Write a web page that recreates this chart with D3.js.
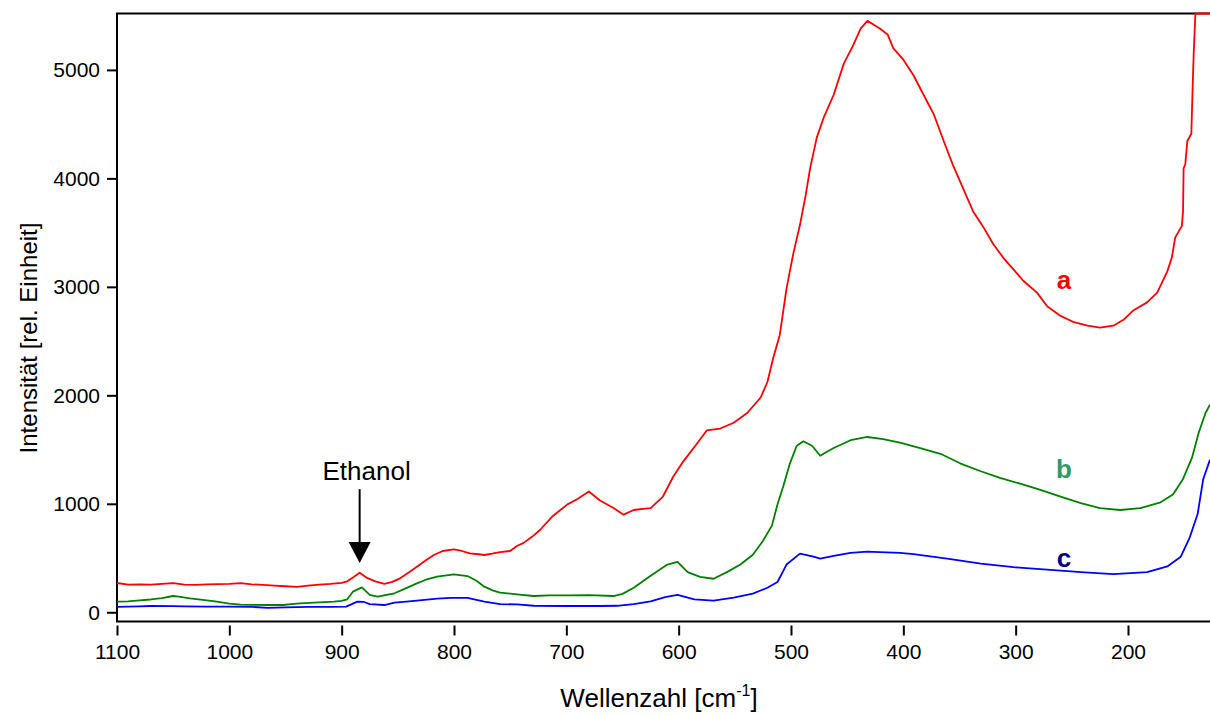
<!DOCTYPE html>
<meta charset="utf-8">
<script src="https://cdnjs.cloudflare.com/ajax/libs/d3/7.8.5/d3.min.js"></script>
<style>
body { margin: 0; background: #fff; }
text { font-family: "Liberation Sans", Arial, sans-serif; }
</style>
<body>
<script>
// Raman spectra a, b, c (wavenumber in cm-1, intensity in rel. units)
var waveA = [1100,1090,1080,1070,1060,1050,1040,1030,1020,1010,1000,990,980,970,960,950,940,930,920,910,900,895,890,884,878,870,862,855,848,840,833,825,818,810,800,793,786,778,773,766,759,750,744,738,730,723,712,705,699,690,680,670,658,649,640,630,625,614,605,596,584,575,563,551,539,527,521,516,510,504,498,492,487,483,477,471,462,453,445,438,432,427,421,414,409,400,391,382,373,364,356,347,338,329,320,311,302,293,281,272,260,249,236,225,213,204,195,183,174,165,161,158,152,151,150.5,149,147.2,143.6,142.7,141.5,140,127];
var intensA = [270,255,258,255,262,268,255,252,258,260,262,268,258,252,245,240,235,245,255,262,272,285,320,365,320,285,262,280,313,370,420,480,528,565,580,565,543,535,528,540,555,565,611,640,700,763,888,945,995,1045,1114,1031,961,900,943,955,961,1067,1247,1389,1551,1676,1694,1747,1837,1980,2123,2338,2556,2983,3304,3572,3841,4092,4378,4557,4771,5058,5219,5381,5452,5420,5381,5327,5201,5094,4951,4771,4593,4342,4127,3912,3698,3555,3395,3268,3161,3054,2947,2821,2732,2678,2642,2624,2642,2696,2785,2857,2947,3143,3268,3454,3562,3700,4092,4130,4342,4414,4750,5150,5600,5800];

var waveB = [1100,1090,1080,1070,1060,1050,1045,1035,1020,1011,1000,990,980,966,952,945,937,920,907,900,895,890,882,875,868,860,853,843,833,825,815,800,788,780,773,765,759,744,729,715,699,680,658,650,640,630,623,610,601,592,581,569,557,545,534,525,517,512,507,501,495,489,481,474,468,462,447,432,418,403,385,367,349,331,314,296,278,260,242,225,207,189,171,160,151,143,137,131,127];
var intensB = [98,100,110,118,130,150,145,129,110,98,80,70,68,67,67,75,83,92,98,105,120,190,230,160,144,160,175,220,267,300,328,350,334,290,236,200,181,166,150,155,155,158,150,170,226,300,351,440,465,370,326,309,370,440,531,657,799,995,1157,1371,1533,1576,1533,1443,1480,1514,1586,1616,1597,1565,1514,1461,1371,1300,1239,1185,1128,1067,1006,960,943,960,1014,1086,1229,1425,1658,1837,1915];

var waveC = [1100,1090,1080,1070,1050,1040,1020,1000,980,966,950,930,910,896,890,886,880,875,862,853,840,833,815,803,788,773,759,744,729,700,670,655,640,625,612,601,586,569,551,534,521,512,504,492,480,474,462,447,432,421,403,391,361,331,302,272,242,213,183,165,153,145,138,133,127];
var intensC = [50,52,55,58,56,55,52,52,50,40,45,50,50,52,80,98,95,76,67,89,100,107,125,132,132,98,76,72,60,58,58,60,76,101,140,160,119,108,136,172,226,279,440,541,512,495,520,548,559,555,548,537,495,448,416,394,370,351,370,423,512,691,906,1229,1407];

var seriesNames = ["a", "b", "c"];
var seriesColors = ["#ff0000", "#008000", "#0000ff"];
var labelColors = ["#ff0000", "#339966", "#000080"];
var labelWave = [257, 257, 257];
var labelValue = [2980, 1235, 420];

var xTicks = [1100,1000,900,800,700,600,500,400,300,200];
var yTicks = [0,1000,2000,3000,4000,5000];

// annotation
var ethanolWave = 884;
var ethanolTip = 455;
var ethanolTop = 1135;

//width and height
var w = 1210;
var h = 716;
var padLeft = 117, padRight = 1210, padTop = 13.5, padBottom = 621.5;

var svg = d3.select("body").append("svg")
    .attr("width", w)
    .attr("height", h);

//scales (x reversed like a spectrum)
var xScale = d3.scaleLinear()
    .domain([1100, 127])
    .range([padLeft, padRight]);

var yScale = d3.scaleLinear()
    .domain([-85, 5520])
    .range([padBottom, padTop])
    .clamp(true);

//y axis
var yAxis = d3.axisLeft(yScale).tickValues(yTicks).tickFormat(d3.format("d"))
    .tickSize(10).tickPadding(7).tickSizeOuter(0);
var gy = svg.append("g")
    .attr("transform", "translate(" + padLeft + ",0)")
    .call(yAxis);
gy.select(".domain").remove();
gy.selectAll("line").attr("stroke-width", 2);
gy.selectAll("text").style("font-size", "21px").attr("fill", "#000");

//x axis, ticks sit a bit below the axis line
var xAxis = d3.axisBottom(xScale).tickValues(xTicks).tickFormat(d3.format("d"))
    .tickSize(10).tickPadding(9).tickSizeOuter(0);
var gx = svg.append("g")
    .attr("transform", "translate(0," + (padBottom + 4) + ")")
    .call(xAxis);
gx.select(".domain").remove();
gx.selectAll("line").attr("stroke-width", 2);
gx.selectAll("text").style("font-size", "21px").attr("fill", "#000");

//frame lines: left, bottom, top
svg.append("path")
    .attr("d", "M" + padRight + "," + padTop + "H" + padLeft + "V" + padBottom + "H" + padRight)
    .attr("fill", "none")
    .attr("stroke", "#000")
    .attr("stroke-width", 2);

//spectra
var line = d3.line()
    .x(function(d) { return xScale(d[0]); })
    .y(function(d) { return yScale(d[1]); });

var waves = [waveA, waveB, waveC];
var intens = [intensA, intensB, intensC];

for (var i = 2; i >= 0; i--) {
  var pts = d3.zip(waves[i], intens[i]);
  svg.append("path")
    .datum(pts)
    .attr("d", line)
    .attr("fill", "none")
    .attr("stroke", seriesColors[i])
    .attr("stroke-width", 1.8)
    .attr("stroke-linejoin", "round");
}

//series labels
svg.selectAll(".lab").data(seriesNames).enter().append("text")
    .attr("x", function(d, i) { return xScale(labelWave[i]); })
    .attr("y", function(d, i) { return yScale(labelValue[i]); })
    .attr("text-anchor", "middle")
    .style("font-size", "26px")
    .style("font-weight", "bold")
    .attr("fill", function(d, i) { return labelColors[i]; })
    .text(function(d) { return d; });

//ethanol arrow
var ax = xScale(ethanolWave);
var tipY = yScale(ethanolTip);
svg.append("line")
    .attr("x1", ax).attr("x2", ax)
    .attr("y1", yScale(ethanolTop)).attr("y2", tipY - 20)
    .attr("stroke", "#000")
    .attr("stroke-width", 2);
svg.append("path")
    .attr("d", "M" + (ax - 11) + "," + (tipY - 21) + "L" + (ax + 11) + "," + (tipY - 21) + "L" + ax + "," + tipY + "Z")
    .attr("fill", "#000");
svg.append("text")
    .attr("x", ax + 7)
    .attr("y", yScale(ethanolTop) - 9)
    .attr("text-anchor", "middle")
    .style("font-size", "26px")
    .text("Ethanol");

//axis titles
svg.append("text")
    .attr("transform", "translate(37," + 338 + ") rotate(-90)")
    .attr("text-anchor", "middle")
    .style("font-size", "24px")
    .text("Intensität [rel. Einheit]");

var xt = svg.append("text")
    .attr("x", 659)
    .attr("y", 707)
    .attr("text-anchor", "middle")
    .style("font-size", "26px");
xt.append("tspan").text("Wellenzahl [cm");
xt.append("tspan").attr("dy", -11).style("font-size", "16px").text("-1");
xt.append("tspan").attr("dy", 11).text("]");
</script>
</body>
</html>
